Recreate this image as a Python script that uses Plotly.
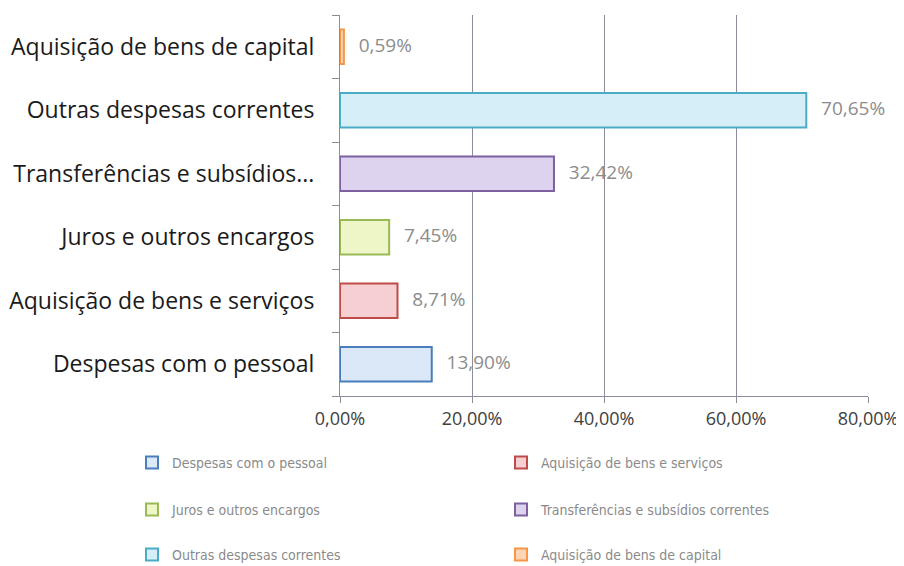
import plotly.graph_objects as go

# -----------------------------------
# Data
# -----------------------------------

categories = [
    "Despesas com o pessoal",
    "Aquisição de bens e serviços",
    "Juros e outros encargos",
    "Transferências e subsídios correntes",
    "Outras despesas correntes",
    "Aquisição de bens de capital",
]

tick_labels = [
    "Despesas com o pessoal",
    "Aquisição de bens e serviços",
    "Juros e outros encargos",
    "Transferências e subsídios...",
    "Outras despesas correntes",
    "Aquisição de bens de capital",
]

values = [0.1390, 0.0871, 0.0745, 0.3242, 0.7065, 0.0059]
value_labels = ["13,90%", "8,71%", "7,45%", "32,42%", "70,65%", "0,59%"]

line_colors = ["#4a7ebb", "#be4b48", "#98b954", "#7d60a0", "#4bacc6", "#f79646"]
fill_colors = ["#dbe8f7", "#f6cfd3", "#eef6c8", "#ddd3ee", "#d5eef7", "#fbd5b5"]

legend_ids = ["legend", "legend", "legend2", "legend2", "legend3", "legend3"]

FONT = "Open Sans"

# the page body has an 8px margin, so the figure is 8px smaller
W, H = 896, 558
plot_l, plot_r, plot_t, plot_b = 332, 860, 7, 388
plot_w = plot_r - plot_l
plot_h = plot_b - plot_t

fig = go.Figure()

for i, cat in enumerate(categories):
    fig.add_trace(
        go.Bar(
            x=[values[i]],
            y=[cat],
            orientation="h",
            name=cat,
            width=0.54,
            marker=dict(
                color=fill_colors[i],
                line=dict(color=line_colors[i], width=2)
            ),
            legend=legend_ids[i],
            hoverinfo="skip"
        )
    )

# data labels
fig.add_trace(
    go.Scatter(
        x=values,
        y=categories,
        mode="text",
        text=["   " + t for t in value_labels],
        textposition="middle right",
        textfont=dict(family=FONT, size=19, color="#8c8c8c"),
        cliponaxis=False,
        showlegend=False,
        hoverinfo="skip"
    )
)

legend_style = dict(
    orientation="h",
    x=(124 - plot_l) / plot_w,
    xanchor="left",
    yanchor="middle",
    entrywidth=324,
    itemwidth=30,
    font=dict(family="DejaVu Sans Condensed, Lato", size=14, color="#8a8a8a"),
    bgcolor="rgba(0,0,0,0)",
    tracegroupgap=0
)

fig.update_layout(
    width=W,
    height=H,
    margin=dict(l=plot_l, r=W - plot_r, t=plot_t, b=H - plot_b, autoexpand=False),
    paper_bgcolor="white",
    plot_bgcolor="white",
    barmode="overlay",
    separators=",.",
    showlegend=True,
    legend=dict(legend_style, y=(plot_b - 455) / plot_h),
    legend2=dict(legend_style, y=(plot_b - 502) / plot_h),
    legend3=dict(legend_style, y=(plot_b - 547) / plot_h),
    xaxis=dict(
        range=[0, 0.8],
        dtick=0.2,
        tickformat=".2%",
        showgrid=True,
        gridcolor="#8c8c9c",
        gridwidth=1.3,
        showline=True,
        linecolor="#8c8c9c",
        ticks="outside",
        ticklen=6,
        tickcolor="#8c8c9c",
        tickfont=dict(family=FONT, size=18, color="#404040"),
        ticklabelstandoff=0,
        zeroline=False,
        automargin=False,
        fixedrange=True
    ),
    yaxis=dict(
        categoryorder="array",
        categoryarray=categories,
        tickvals=categories,
        ticktext=tick_labels,
        range=[-0.5, 5.5],
        showline=True,
        linecolor="#8c8c9c",
        ticks="outside",
        tickson="boundaries",
        ticklen=7,
        tickcolor="#8c8c9c",
        tickfont=dict(family=FONT, size=23, color="#1a1a1a"),
        ticklabelstandoff=20,
        showgrid=False,
        automargin=False,
        fixedrange=True
    )
)

fig.write_html("out.html")
